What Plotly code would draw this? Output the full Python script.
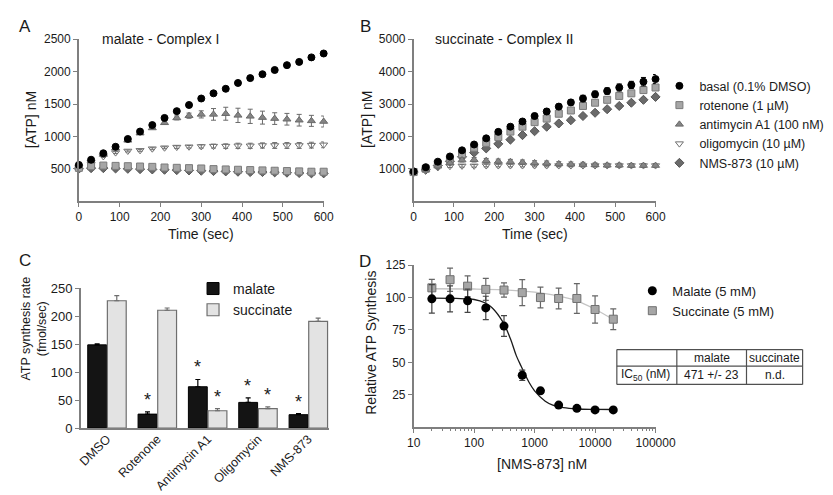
import plotly.graph_objects as go

W, H = 833, 495
FONT = "Liberation Sans, Arial, sans-serif"

# ---------------- data ----------------
time_s = [0, 30, 60, 90, 120, 150, 180, 210, 240, 270, 300, 330, 360, 390, 420, 450, 480, 510, 540, 570, 600]

a_basal = [560, 640, 740, 840, 960, 1075, 1175, 1285, 1390, 1485, 1585, 1665, 1735, 1825, 1900, 1960, 2025, 2100, 2150, 2220, 2280]
a_basal_err = [10, 10, 15, 15, 15, 15, 15, 15, 15, 15, 15, 15, 20, 20, 20, 20, 20, 20, 20, 20, 25]
a_rot = [515, 540, 550, 545, 540, 535, 530, 520, 515, 510, 505, 495, 490, 485, 480, 475, 470, 465, 460, 455, 455]
a_rot_err = [15, 20, 20, 20, 20, 20, 20, 20, 20, 20, 20, 20, 20, 20, 20, 20, 20, 20, 20, 20, 20]
a_anti = [540, 620, 720, 820, 940, 1050, 1130, 1210, 1285, 1320, 1340, 1340, 1350, 1325, 1310, 1290, 1275, 1265, 1250, 1240, 1230]
a_anti_err = [10, 10, 15, 15, 15, 20, 20, 25, 30, 40, 55, 90, 100, 110, 110, 100, 90, 90, 90, 85, 85]
a_oligo = [520, 600, 690, 750, 775, 785, 810, 825, 835, 840, 845, 850, 850, 855, 855, 860, 860, 860, 860, 865, 870]
a_oligo_err = [10, 10, 15, 15, 15, 15, 15, 15, 20, 20, 25, 30, 35, 40, 40, 40, 45, 45, 45, 45, 45]
a_nms = [500, 510, 510, 505, 500, 495, 490, 485, 480, 475, 470, 465, 460, 455, 450, 450, 445, 440, 435, 430, 430]
a_nms_err = [10, 10, 10, 10, 10, 10, 10, 10, 10, 10, 10, 10, 10, 10, 10, 10, 10, 10, 10, 10, 10]

b_basal = [920, 1050, 1220, 1380, 1570, 1750, 1940, 2140, 2300, 2460, 2630, 2770, 2920, 3050, 3170, 3300, 3400, 3510, 3590, 3690, 3770]
b_basal_err = [30, 40, 40, 50, 50, 50, 50, 60, 60, 70, 80, 80, 80, 80, 100, 100, 100, 110, 110, 130, 140]
b_rot = [900, 1000, 1150, 1280, 1450, 1650, 1800, 1980, 2150, 2300, 2440, 2550, 2700, 2800, 2940, 3040, 3130, 3250, 3330, 3430, 3510]
b_rot_err = [30, 30, 40, 40, 40, 50, 50, 50, 50, 60, 60, 60, 60, 60, 60, 60, 70, 70, 70, 80, 80]
b_anti = [900, 980, 1080, 1180, 1270, 1280, 1250, 1230, 1220, 1200, 1180, 1170, 1150, 1140, 1130, 1120, 1110, 1110, 1100, 1100, 1100]
b_anti_err = [30, 40, 50, 60, 60, 70, 70, 70, 70, 70, 70, 70, 70, 70, 70, 60, 60, 60, 60, 60, 60]
b_oligo = [880, 960, 1040, 1080, 1090, 1090, 1100, 1100, 1100, 1100, 1100, 1100, 1100, 1100, 1100, 1100, 1100, 1100, 1100, 1100, 1100]
b_oligo_err = [30, 30, 40, 40, 40, 40, 40, 40, 40, 40, 40, 40, 40, 40, 40, 40, 40, 40, 40, 40, 40]
b_nms = [900, 970, 1100, 1230, 1370, 1500, 1630, 1770, 1900, 2040, 2160, 2300, 2400, 2500, 2630, 2730, 2840, 2940, 3040, 3130, 3220]
b_nms_err = [20, 20, 30, 30, 30, 40, 40, 40, 40, 50, 50, 50, 50, 50, 50, 50, 60, 60, 60, 60, 60]

series_names = ["basal (0.1% DMSO)", "rotenone (1 µM)", "antimycin A1 (100 nM)", "oligomycin (10 µM)", "NMS-873 (10 µM)"]

c_categories = ["DMSO", "Rotenone", "Antimycin A1", "Oligomycin", "NMS-873"]
c_malate = [149, 25, 74, 46, 24]
c_malate_err = [2, 4, 13, 8, 2]
c_succinate = [228, 211, 31, 35, 191]
c_succinate_err = [9, 4, 4, 3, 6]
c_malate_star = [False, True, True, True, True]
c_succinate_star = [False, False, True, True, False]

d_conc = [20, 40, 78, 156, 312, 625, 1250, 2500, 5000, 10000, 20000]
d_malate = [99, 99, 97.5, 92, 78, 40, 28, 17, 14.5, 13.3, 13.3]
d_malate_err = [11, 10, 9, 9, 8, 4, 2, 1, 1, 1, 1]
d_succinate = [107.5, 113.8, 108.8, 106.3, 105.8, 103.8, 100, 99.3, 99.3, 90.8, 83.3]
d_succinate_err = [6.5, 9, 8, 8.5, 5.5, 10, 8, 8, 11.5, 10.5, 8]
d_fit_mal_x = [20, 50, 100, 150, 200, 300, 400, 500, 600, 800, 1000, 1500, 2000, 3000, 5000, 10000, 20000]
d_fit_mal_y = [99.5, 99.3, 98.5, 96, 92, 81, 68, 55, 47, 35, 28, 20, 17, 15, 14, 13.7, 13.6]
d_fit_suc_x = [20, 100, 300, 1000, 2000, 5000, 10000, 20000]
d_fit_suc_y = [106.8, 106.6, 106, 104.2, 102, 97.5, 91, 83]

table_header = ["", "malate", "succinate"]
table_row = ["IC<sub>50</sub> (nM)", "471 +/- 23", "n.d."]

# ---------------- helpers ----------------
def px(x):
    return x / W

def py(y):
    return 1 - y / H

AX = "#7f7f7f"
TXT = "#1a1a1a"

styles = [
    dict(symbol="circle", size=7, color="#000000", line=dict(color="#000000", width=1)),
    dict(symbol="square", size=7, color="#a6a6a6", line=dict(color="#7a7a7a", width=1)),
    dict(symbol="triangle-up", size=7, color="#858585", line=dict(color="#6a6a6a", width=1)),
    dict(symbol="triangle-down-open", size=7, color="#6f6f6f", line=dict(color="#6f6f6f", width=1)),
    dict(symbol="diamond", size=7, color="#6a6a6a", line=dict(color="#555555", width=1)),
]
err_cols = ["#000000", "#7a7a7a", "#6a6a6a", "#6f6f6f", "#555555"]

fig = go.Figure()

a_sets = [(a_basal, a_basal_err), (a_rot, a_rot_err), (a_anti, a_anti_err), (a_oligo, a_oligo_err), (a_nms, a_nms_err)]
b_sets = [(b_basal, b_basal_err), (b_rot, b_rot_err), (b_anti, b_anti_err), (b_oligo, b_oligo_err), (b_nms, b_nms_err)]

order = [4, 3, 1, 2, 0]
for i in order:
    vals, err = a_sets[i]
    fig.add_trace(go.Scatter(x=time_s, y=vals, mode="markers", marker=styles[i],
                             error_y=dict(type="data", array=err, color=err_cols[i], thickness=1, width=2.5),
                             xaxis="x", yaxis="y", showlegend=False, cliponaxis=False, name=series_names[i]))
for i in order:
    vals, err = b_sets[i]
    fig.add_trace(go.Scatter(x=time_s, y=vals, mode="markers", marker=styles[i],
                             error_y=dict(type="data", array=err, color=err_cols[i], thickness=1, width=2.5),
                             xaxis="x2", yaxis="y2", showlegend=True, legend="legend",
                             legendrank=i, cliponaxis=False, name=series_names[i]))

# ---- panel C ----
fig.add_trace(go.Bar(x=c_categories, y=c_malate, name="malate", xaxis="x3", yaxis="y3",
                     marker=dict(color="#141414", line=dict(color="#000000", width=1)),
                     error_y=dict(type="data", symmetric=False, array=c_malate_err, arrayminus=[0] * 5,
                                  color="#000000", thickness=1.2, width=2.5),
                     legend="legend2"))
fig.add_trace(go.Bar(x=c_categories, y=c_succinate, name="succinate", xaxis="x3", yaxis="y3",
                     marker=dict(color="#e3e3e3", line=dict(color="#6e6e6e", width=1.2)),
                     error_y=dict(type="data", symmetric=False, array=c_succinate_err, arrayminus=[0] * 5,
                                  color="#6e6e6e", thickness=1.2, width=2.5),
                     legend="legend2"))

annotations = []
for cat, v, e, s in zip(c_categories, c_malate, c_malate_err, c_malate_star):
    if s:
        annotations.append(dict(x=cat, y=v + e, xref="x3", yref="y3", text="*", showarrow=False,
                                xshift=-10, yshift=0, yanchor="bottom", font=dict(size=18, color=TXT, family=FONT)))
for cat, v, e, s in zip(c_categories, c_succinate, c_succinate_err, c_succinate_star):
    if s:
        annotations.append(dict(x=cat, y=v + e, xref="x3", yref="y3", text="*", showarrow=False,
                                xshift=10, yshift=0, yanchor="bottom", font=dict(size=18, color=TXT, family=FONT)))

# ---- panel D ----
fig.add_trace(go.Scatter(x=d_fit_suc_x, y=d_fit_suc_y, mode="lines", line=dict(color="#c4c4c4", width=1.3, shape="spline"),
                         xaxis="x4", yaxis="y4", showlegend=False, hoverinfo="skip"))
fig.add_trace(go.Scatter(x=d_fit_mal_x, y=d_fit_mal_y, mode="lines", line=dict(color="#1a1a1a", width=1.3, shape="spline"),
                         xaxis="x4", yaxis="y4", showlegend=False, hoverinfo="skip"))
fig.add_trace(go.Scatter(x=d_conc, y=d_succinate, mode="markers", name="Succinate (5 mM)",
                         marker=dict(symbol="square", size=8, color="#a6a6a6", line=dict(color="#707070", width=1)),
                         error_y=dict(type="data", array=d_succinate_err, color="#666666", thickness=1.2, width=3),
                         xaxis="x4", yaxis="y4", legend="legend3", legendrank=2, cliponaxis=False))
fig.add_trace(go.Scatter(x=d_conc, y=d_malate, mode="markers", name="Malate (5 mM)",
                         marker=dict(symbol="circle", size=9, color="#000000"),
                         error_y=dict(type="data", array=d_malate_err, color="#444444", thickness=1.2, width=3),
                         xaxis="x4", yaxis="y4", legend="legend3", legendrank=1, cliponaxis=False))

tickfont = dict(family=FONT, size=12, color=TXT)
common = dict(showline=True, linecolor=AX, linewidth=1.5, ticks="outside", tickcolor=AX, ticklen=4,
              tickwidth=1.2, showgrid=False, zeroline=False, tickfont=tickfont)

layout = dict(
    width=W, height=H, margin=dict(l=0, r=0, t=0, b=0), paper_bgcolor="white", plot_bgcolor="white",
    font=dict(family=FONT, color=TXT),
    barmode="group", bargap=0.22, bargroupgap=0.04,
    xaxis=dict(domain=[px(66), px(319)], range=[0, 600], tickvals=[0, 100, 200, 300, 400, 500, 600],
               anchor="y", **common),
    yaxis=dict(domain=[py(192), py(25)], range=[0, 2500], tickvals=[500, 1000, 1500, 2000, 2500],
               anchor="x", **common),
    xaxis2=dict(domain=[px(412), px(662)], range=[0, 600], tickvals=[0, 100, 200, 300, 400, 500, 600],
                anchor="y2", **common),
    yaxis2=dict(domain=[py(192), py(25)], range=[0, 5000], tickvals=[1000, 2000, 3000, 4000, 5000],
                anchor="x2", **common),
    xaxis3=dict(domain=[px(68), px(325)], range=[-0.52, 4.42], anchor="y3", tickangle=-45,
                showline=True, linecolor=AX, linewidth=1.5, ticks="", showgrid=False, zeroline=False,
                ticklabelstandoff=-3,
                tickfont=dict(family=FONT, size=12.5, color=TXT)),
    yaxis3=dict(domain=[py(426), py(282)], range=[0, 250], tickvals=[0, 50, 100, 150, 200, 250], anchor="x3",
                **{**common, "tickfont": dict(family=FONT, size=13, color=TXT)}),
    xaxis4=dict(domain=[px(412), px(662)], type="log", range=[1, 5], anchor="y4",
                tickvals=[10, 100, 1000, 10000, 100000], ticktext=["10", "100", "1000", "10000", "100000"],
                minor=dict(ticks="outside", ticklen=2, tickcolor=AX, dtick="D1"),
                **common),
    yaxis4=dict(domain=[py(425), py(258)], range=[0, 125], tickvals=[25, 50, 75, 100, 125], anchor="x4", **common),
    legend=dict(x=px(666), y=py(58), xanchor="left", yanchor="top", bgcolor="rgba(0,0,0,0)",
                font=dict(family=FONT, size=12.5, color=TXT), itemwidth=30, tracegroupgap=0),
    legend2=dict(x=px(184), y=py(266), xanchor="left", yanchor="top", bgcolor="rgba(0,0,0,0)",
                 font=dict(family=FONT, size=14, color=TXT), itemwidth=30),
    legend3=dict(x=px(638), y=py(269), xanchor="left", yanchor="top", bgcolor="rgba(0,0,0,0)",
                 font=dict(family=FONT, size=13, color=TXT), itemwidth=30),
)

def ann(x, y, text, size=14, angle=0, xanchor="center", yanchor="middle"):
    annotations.append(dict(x=px(x), y=py(y), xref="paper", yref="paper", text=text, showarrow=False,
                            textangle=angle, xanchor=xanchor, yanchor=yanchor,
                            font=dict(family=FONT, size=size, color=TXT)))

ann(10, 12, "A", 17)
ann(362, 12, "B", 17)
ann(10, 253, "C", 17)
ann(362, 254, "D", 17)
ann(88, 25, "malate - Complex I", 14, xanchor="left")
ann(432, 25, "succinate - Complex II", 14, xanchor="left")
ann(16, 108, "[ATP] nM", 14, angle=-90)
ann(364, 108, "[ATP] nM", 14, angle=-90)
ann(192, 226, "Time (sec)", 14)
ann(537, 226, "Time (sec)", 14)
ann(20, 323, "ATP synthesis rate<br>(fmol/sec)", 12.5, angle=-90)
ann(368, 338, "Relative ATP Synthesis", 14, angle=-90)
ann(545, 463, "[NMS-873] nM", 14)

# table
tx0, tx1, tx2, tx3 = 622, 684, 756, 814
ty0, ty1, ty2 = 345, 362, 381
shapes = []
lc = dict(color="#505050", width=1.2)
for (x0, y0, x1, y1) in [(tx0, ty0, tx3, ty0), (tx0, ty1, tx3, ty1), (tx0, ty2, tx3, ty2),
                         (tx0, ty0, tx0, ty2), (tx1, ty0, tx1, ty2), (tx2, ty0, tx2, ty2), (tx3, ty0, tx3, ty2)]:
    shapes.append(dict(type="line", xref="paper", yref="paper", x0=px(x0), y0=py(y0), x1=px(x1), y1=py(y1), line=lc))
cols_c = [(tx0 + tx1) / 2, (tx1 + tx2) / 2, (tx2 + tx3) / 2]
for cx, t in zip(cols_c, table_header):
    if t:
        ann(cx, (ty0 + ty1) / 2 + 0.5, t, 12)
ann(tx0 + 2, (ty1 + ty2) / 2, table_row[0], 12, xanchor="left")
ann(cols_c[1], (ty1 + ty2) / 2, table_row[1], 12)
ann(cols_c[2], (ty1 + ty2) / 2, table_row[2], 12)

layout["annotations"] = annotations
layout["shapes"] = shapes
fig.update_layout(**layout)
fig.write_html("out.html")
